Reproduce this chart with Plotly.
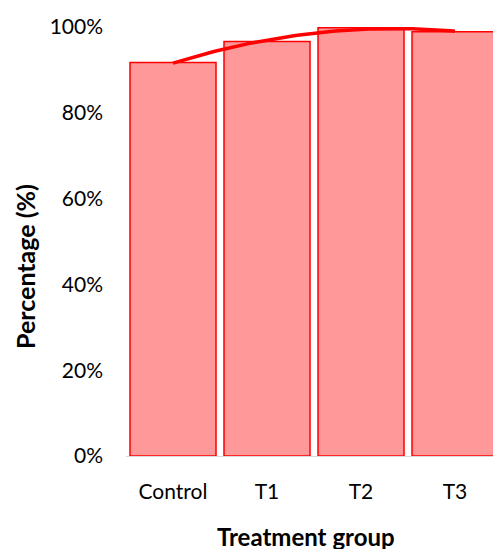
import numpy as np
import plotly.graph_objects as go

# Share of subjects per treatment group (fractions of 1)
groups = ["Control", "T1", "T2", "T3"]
percentages = [0.917, 0.966, 0.998, 0.989]
y_ticks = [0, 0.2, 0.4, 0.6, 0.8, 1.0]

# Second-order polynomial trendline over the group positions
pos = np.arange(len(groups))
coef = np.polyfit(pos, percentages, 2)
trend_x = np.linspace(0, len(groups) - 1, 60)
trend_y = np.polyval(coef, trend_x)

fig = go.Figure()
fig.add_trace(go.Bar(
    x=pos, y=percentages,
    marker=dict(color="#FF9999", line=dict(color="#FF0000", width=1.5)),
    showlegend=False,
))
fig.add_trace(go.Scatter(
    x=trend_x, y=trend_y, mode="lines",
    line=dict(color="#FF0000", width=3.5),
    showlegend=False, cliponaxis=False,
))

font_family = "Lato, 'Open Sans', sans-serif"
fig.update_layout(
    width=493, height=549,
    margin=dict(l=126, r=0, t=27, b=93),
    paper_bgcolor="white", plot_bgcolor="white",
    bargap=0.085,
    font=dict(family=font_family, color="#000000", size=21),
    xaxis=dict(
        range=[-0.5, 3.404], tickmode="array", tickvals=pos, ticktext=groups,
        showgrid=False, zeroline=False, showline=True, linecolor="#D9D9D9",
        linewidth=1, ticks="", ticklabelstandoff=17, fixedrange=True,
    ),
    yaxis=dict(
        range=[0, 1.0], tickmode="array", tickvals=y_ticks, tickformat=".0%",
        showgrid=False, zeroline=False, showline=False, ticks="",
        ticklabelstandoff=22, fixedrange=True,
    ),
    annotations=[
        dict(text="<b>Percentage (%)</b>", textangle=-90, xref="paper", yref="paper",
             x=(25 - 126) / 367, y=(549 - 93 - 267) / 429, showarrow=False,
             font=dict(size=25, family=font_family), xanchor="center", yanchor="middle"),
        dict(text="<b>Treatment group</b>", xref="paper", yref="paper",
             x=(306 - 126) / 367, y=-(536 - 456) / 429, showarrow=False,
             font=dict(size=24, family=font_family), xanchor="center", yanchor="middle"),
    ],
)

fig.write_html("out.html")
